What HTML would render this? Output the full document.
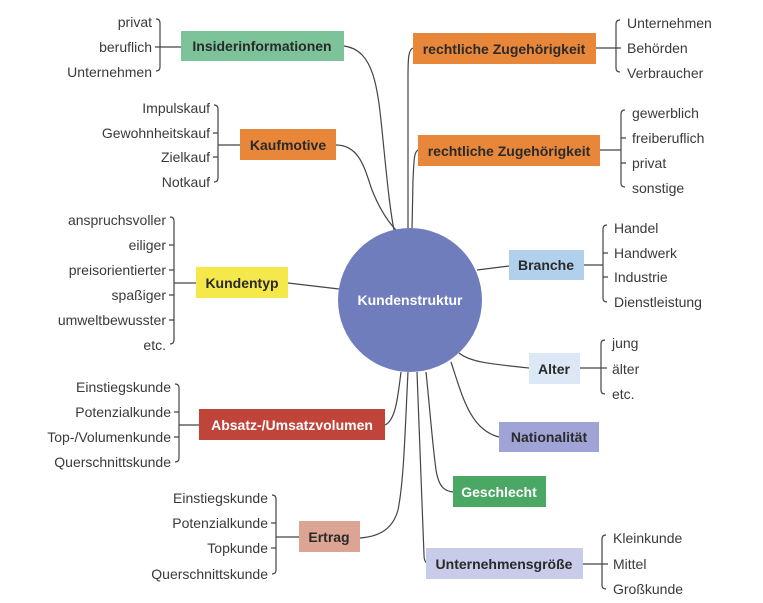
<!DOCTYPE html>
<html><head><meta charset="utf-8"><style>
html,body{margin:0;padding:0;background:#fff;}
svg{display:block;}
text{font-family:"Liberation Sans",sans-serif;font-size:14px;fill:#3a3a3a;}
.b{font-weight:bold;fill:#2a2a2a;}
</style></head><body>
<svg width="763" height="603" viewBox="0 0 763 603" xmlns="http://www.w3.org/2000/svg">
<g fill="none" stroke="#444" stroke-width="1.2">
<path d="M344,46 C375,50 378,90 383,140 C387,180 390,210 394,230"/>
<path d="M336,145 C360,145 365,170 372,190 C380,210 388,222 397,231"/>
<path d="M413,48 C408,50 408,60 408,80 L408,229"/>
<path d="M418,150 C414,152 414,160 413,180 L412,229"/>
<path d="M288,283 L339,289"/>
<path d="M477,270 L509,266"/>
<path d="M459,353 C470,362 490,364 529,368"/>
<path d="M451,362 C462,395 470,430 499,437"/>
<path d="M426,372 C430,410 432,440 436,470 C439,488 445,491 453,492"/>
<path d="M417,372 L424,555 C424,560 425,562 427,563"/>
<path d="M401,372 C398,395 396,420 385,425"/>
<path d="M408,372 C405,430 404,480 398,510 C392,532 375,537 360,538"/>
<path d="M156,19 q4,0 4,4 v44 q0,4 -4,4 M155,47 H181"/>
<path d="M214,105 q4,0 4,4 v69 q0,4 -4,4 M213,133 h5 M213,157 h5 M218,145 H240"/>
<path d="M170,217 q4,0 4,4 v119 q0,4 -4,4 M169,245 h5 M169,270 h5 M169,295 h5 M169,320 h5 M174,283 H196"/>
<path d="M175,384 q4,0 4,4 v70 q0,4 -4,4 M174,412 h5 M174,437 h5 M179,425 H199"/>
<path d="M272,495 q4,0 4,4 v71 q0,4 -4,4 M271,523 h5 M271,548 h5 M276,537 H299"/>
<path d="M620,20 q-4,0 -4,4 v44 q0,4 4,4 M596,48 H621"/>
<path d="M625,110 q-4,0 -4,4 v69 q0,4 4,4 M621,138 h5 M621,163 h5 M600,150 H621"/>
<path d="M607,225 q-4,0 -4,4 v69 q0,4 4,4 M603,253 h5 M603,277 h5 M584,265 H603"/>
<path d="M605,340 q-4,0 -4,4 v46 q0,4 4,4 M580,368 H607"/>
<path d="M606,535 q-4,0 -4,4 v46 q0,4 4,4 M583,564 H608"/>
</g>
<circle cx="410" cy="300" r="72" fill="#6f7dbd"/>
<text x="410" y="305" text-anchor="middle" class="b" style="fill:#fff;font-size:14px">Kundenstruktur</text>
<rect x="181" y="31" width="163" height="30" fill="#7cc39a"/>
<text x="262" y="51" text-anchor="middle" class="b">Insiderinformationen</text>
<rect x="240" y="129" width="96" height="31" fill="#e8873a"/>
<text x="288" y="150" text-anchor="middle" class="b">Kaufmotive</text>
<rect x="196" y="267" width="92" height="31" fill="#f5e84a"/>
<text x="242" y="288" text-anchor="middle" class="b">Kundentyp</text>
<rect x="199" y="409" width="186" height="31" fill="#c0443a"/>
<text x="292" y="430" text-anchor="middle" class="b" style="fill:#fff">Absatz-/Umsatzvolumen</text>
<rect x="299" y="521" width="61" height="31" fill="#dba493"/>
<text x="329" y="542" text-anchor="middle" class="b">Ertrag</text>
<rect x="413" y="33" width="183" height="31" fill="#e8873a"/>
<text x="504" y="54" text-anchor="middle" class="b">rechtliche Zugehörigkeit</text>
<rect x="418" y="135" width="182" height="31" fill="#e8873a"/>
<text x="509" y="156" text-anchor="middle" class="b">rechtliche Zugehörigkeit</text>
<rect x="509" y="250" width="75" height="30" fill="#b0d0ec"/>
<text x="546" y="270" text-anchor="middle" class="b">Branche</text>
<rect x="529" y="353" width="51" height="31" fill="#dce8f5"/>
<text x="554" y="374" text-anchor="middle" class="b">Alter</text>
<rect x="499" y="422" width="100" height="30" fill="#9fa3d5"/>
<text x="549" y="442" text-anchor="middle" class="b">Nationalität</text>
<rect x="453" y="476" width="93" height="31" fill="#4aa864"/>
<text x="499" y="497" text-anchor="middle" class="b" style="fill:#fff">Geschlecht</text>
<rect x="426" y="548" width="157" height="31" fill="#c8cbea"/>
<text x="504" y="569" text-anchor="middle" class="b">Unternehmensgröße</text>
<g text-anchor="end">
<text x="152" y="27">privat</text><text x="152" y="52">beruflich</text><text x="152" y="77">Unternehmen</text>
<text x="210" y="113">Impulskauf</text><text x="210" y="138">Gewohnheitskauf</text><text x="210" y="162">Zielkauf</text><text x="210" y="187">Notkauf</text>
<text x="166" y="225">anspruchsvoller</text><text x="166" y="250">eiliger</text><text x="166" y="275">preisorientierter</text><text x="166" y="300">spaßiger</text><text x="166" y="325">umweltbewusster</text><text x="166" y="350">etc.</text>
<text x="171" y="392">Einstiegskunde</text><text x="171" y="417">Potenzialkunde</text><text x="171" y="442">Top-/Volumenkunde</text><text x="171" y="467">Querschnittskunde</text>
<text x="268" y="503">Einstiegskunde</text><text x="268" y="528">Potenzialkunde</text><text x="268" y="553">Topkunde</text><text x="268" y="579">Querschnittskunde</text>
</g>
<text x="627" y="28">Unternehmen</text><text x="627" y="53">Behörden</text><text x="627" y="78">Verbraucher</text>
<text x="632" y="118">gewerblich</text><text x="632" y="143">freiberuflich</text><text x="632" y="168">privat</text><text x="632" y="193">sonstige</text>
<text x="614" y="233">Handel</text><text x="614" y="258">Handwerk</text><text x="614" y="282">Industrie</text><text x="614" y="307">Dienstleistung</text>
<text x="612" y="348">jung</text><text x="612" y="374">älter</text><text x="612" y="399">etc.</text>
<text x="613" y="543">Kleinkunde</text><text x="613" y="569">Mittel</text><text x="613" y="594">Großkunde</text>
</svg>
</body></html>
